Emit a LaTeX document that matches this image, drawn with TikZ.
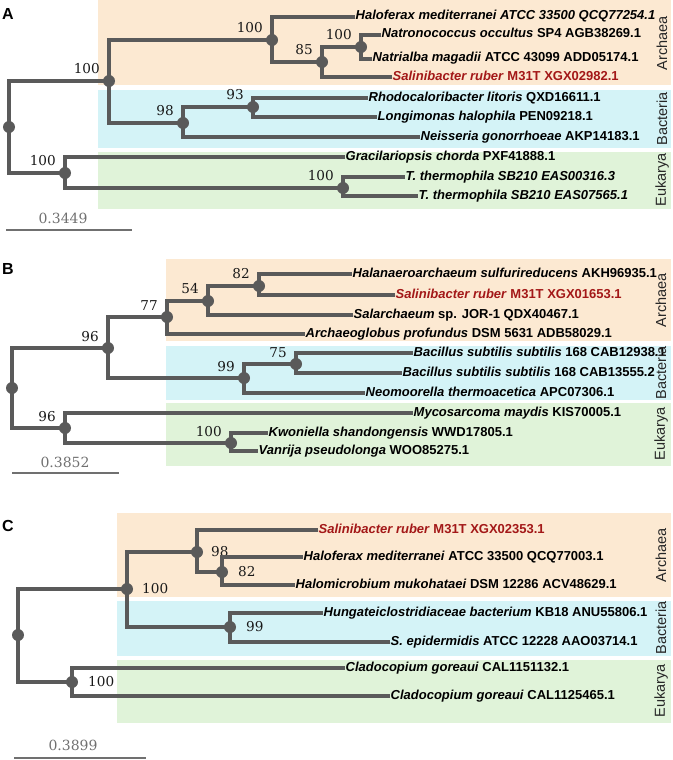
\documentclass[tikz,border=0pt]{standalone}
\usepackage{fontspec}
\usepackage{xcolor}
\usepackage{tikz}
\usetikzlibrary{positioning}
\newfontfamily\leaffont{Liberation Sans}
\newfontfamily\suppfont{DejaVu Serif}

\tikzset{
    br/.style={draw=treegray, line width=3.3bp},
    bp/.style={circle, fill=treegray, inner sep=0pt, minimum size=12bp},
    leaf/.style={anchor=west, inner sep=0.5bp, text height=9bp, text depth=3bp,
        font=\leaffont\bfseries\fontsize{13bp}{15bp}\selectfont},
    redleaf/.style={leaf, text=salred},
    supp/.style={inner sep=0pt, text=black!90,
        font=\suppfont\fontsize{13.6bp}{16bp}\selectfont},
    domlabel/.style={rotate=90, inner sep=0pt, text=black!85,
        font=\leaffont\fontsize{14.5bp}{17bp}\selectfont},
    panel/.style={inner sep=0pt, font=\leaffont\bfseries\fontsize{16bp}{19bp}\selectfont},
    scalebar/.style={draw=scalegray, line width=1.3bp},
    scaletext/.style={inner sep=0pt, text=scalegray,
        font=\suppfont\fontsize{14bp}{17bp}\selectfont}
}

\begin{document}
\begin{tikzpicture}[x=1bp,y=-1bp]
    \definecolor{treegray}{HTML}{5A5A5A}
    \definecolor{scalegray}{HTML}{707070}
    \definecolor{salred}{HTML}{A31818}
    \definecolor{archaea}{HTML}{FCE9D2}
    \definecolor{bacteria}{HTML}{D4F3F7}
    \definecolor{eukarya}{HTML}{E0F3D9}
    \useasboundingbox (0,0) rectangle (673,760);

    % bands
    \fill[archaea] (98,0) rectangle (671,85);
    \fill[bacteria] (98,90) rectangle (671,148);
    \fill[eukarya] (98,152) rectangle (671,209);
    \fill[archaea] (166,259) rectangle (671,341);
    \fill[bacteria] (166,346) rectangle (671,400);
    \fill[eukarya] (166,403) rectangle (671,466);
    \fill[archaea] (117,513) rectangle (671,597);
    \fill[bacteria] (117,601) rectangle (671,656);
    \fill[eukarya] (117,660) rectangle (671,723);

    % panel A
    \node[panel] (pa) at (8,14) {A};
    \node[bp] (a0) at (9,127) {};
    \node[bp] (a1) at (109,81) {};
    \node[bp] (a2) at (272,40) {};
    \node[bp] (a3) at (322,62) {};
    \node[bp] (a4) at (361,47) {};
    \node[bp] (a5) at (183,123) {};
    \node[bp] (a6) at (253,107) {};
    \node[bp] (a7) at (65,173) {};
    \node[bp] (a8) at (343,188) {};
    \node[supp, above left=7bp and 9bp of a1.center] (sa1) {100};
    \node[supp, above left=7bp and 9bp of a2.center] (sa2) {100};
    \node[supp, above left=7bp and 9bp of a3.center] (sa3) {85};
    \node[supp, above left=7bp and 9bp of a4.center] (sa4) {100};
    \node[supp, above left=7bp and 9bp of a5.center] (sa5) {98};
    \node[supp, above left=7bp and 9bp of a6.center] (sa6) {93};
    \node[supp, above left=7bp and 9bp of a7.center] (sa7) {100};
    \node[supp, above left=7bp and 9bp of a8.center] (sa8) {100};
    \node[leaf] (a-hme) at (355,17) {\itshape Haloferax mediterranei ATCC 33500 QCQ77254.1};
    \node[leaf] (a-noc) at (381,35) {\textit{Natronococcus occultus} SP4 AGB38269.1};
    \node[leaf] (a-nma) at (372,59) {\textit{Natrialba magadii} ATCC 43099 ADD05174.1};
    \node[redleaf] (a-sru) at (392,77) {\textit{Salinibacter ruber} M31T XGX02982.1};
    \node[leaf] (a-rli) at (368,98) {\textit{Rhodocaloribacter litoris} QXD16611.1};
    \node[leaf] (a-lha) at (377,117) {\textit{Longimonas halophila} PEN09218.1};
    \node[leaf] (a-ngo) at (420,137) {\textit{Neisseria gonorrhoeae} AKP14183.1};
    \node[leaf] (a-gch) at (345,157) {\textit{Gracilariopsis chorda} PXF41888.1};
    \node[leaf] (a-tt1) at (405,177) {\itshape T. thermophila SB210 EAS00316.3};
    \node[leaf] (a-tt2) at (418,196) {\itshape T. thermophila SB210 EAS07565.1};
    \draw[br] (a0.center) |- (a1.center);
    \draw[br] (a0.center) |- (a7.center);
    \draw[br] (a1.center) |- (a2.center);
    \draw[br] (a1.center) |- (a5.center);
    \draw[br] (a2.center) |- (a-hme.west);
    \draw[br] (a2.center) |- (a3.center);
    \draw[br] (a3.center) |- (a4.center);
    \draw[br] (a3.center) |- (a-sru.west);
    \draw[br] (a4.center) |- (a-noc.west);
    \draw[br] (a4.center) |- (a-nma.west);
    \draw[br] (a5.center) |- (a6.center);
    \draw[br] (a5.center) |- (a-ngo.west);
    \draw[br] (a6.center) |- (a-rli.west);
    \draw[br] (a6.center) |- (a-lha.west);
    \draw[br] (a7.center) |- (a-gch.west);
    \draw[br] (a7.center) |- (a8.center);
    \draw[br] (a8.center) |- (a-tt1.west);
    \draw[br] (a8.center) |- (a-tt2.west);
    \node[domlabel] (da-arc) at (662,43) {Archaea};
    \node[domlabel] (da-bac) at (662,119) {Bacteria};
    \node[domlabel] (da-euk) at (662,180) {Eukarya};
    \coordinate (sa-l) at (6,230);
    \coordinate (sa-r) at (132,230);
    \draw[scalebar] (sa-l) -- (sa-r);
    \node[scaletext] (sa-t) at (63,218) {0.3449};

    % panel B
    \node[panel] (pb) at (8,269) {B};
    \node[bp] (b0) at (12,388) {};
    \node[bp] (b1) at (108,348) {};
    \node[bp] (b2) at (167,317) {};
    \node[bp] (b3) at (208,301) {};
    \node[bp] (b4) at (259,286) {};
    \node[bp] (b5) at (244,378) {};
    \node[bp] (b6) at (296,364) {};
    \node[bp] (b7) at (65,428) {};
    \node[bp] (b8) at (231,443) {};
    \node[supp, above left=6bp and 9bp of b1.center] (sb1) {96};
    \node[supp, above left=6bp and 9bp of b2.center] (sb2) {77};
    \node[supp, above left=7bp and 9bp of b3.center] (sb3) {54};
    \node[supp, above left=7bp and 9bp of b4.center] (sb4) {82};
    \node[supp, above left=6bp and 9bp of b5.center] (sb5) {99};
    \node[supp, above left=6bp and 9bp of b6.center] (sb6) {75};
    \node[supp, above left=6bp and 9bp of b7.center] (sb7) {96};
    \node[supp, above left=6bp and 9bp of b8.center] (sb8) {100};
    \node[leaf] (b-hsu) at (352,274) {\textit{Halanaeroarchaeum sulfurireducens} AKH96935.1};
    \node[redleaf] (b-sru) at (395,295) {\textit{Salinibacter ruber} M31T XGX01653.1};
    \node[leaf] (b-sal) at (353,315) {\textit{Salarchaeum} sp. JOR-1 QDX40467.1};
    \node[leaf] (b-apr) at (305,334) {\textit{Archaeoglobus profundus} DSM 5631 ADB58029.1};
    \node[leaf] (b-bs1) at (413,353) {\textit{Bacillus subtilis subtilis} 168 CAB12938.1};
    \node[leaf] (b-bs2) at (402,373) {\textit{Bacillus subtilis subtilis} 168 CAB13555.2};
    \node[leaf] (b-nth) at (365,393) {\textit{Neomoorella thermoacetica} APC07306.1};
    \node[leaf] (b-mma) at (413,413) {\textit{Mycosarcoma maydis} KIS70005.1};
    \node[leaf] (b-ksh) at (268,433) {\textit{Kwoniella shandongensis} WWD17805.1};
    \node[leaf] (b-vps) at (258,451) {\textit{Vanrija pseudolonga} WOO85275.1};
    \draw[br] (b0.center) |- (b1.center);
    \draw[br] (b0.center) |- (b7.center);
    \draw[br] (b1.center) |- (b2.center);
    \draw[br] (b1.center) |- (b5.center);
    \draw[br] (b2.center) |- (b3.center);
    \draw[br] (b2.center) |- (b-apr.west);
    \draw[br] (b3.center) |- (b4.center);
    \draw[br] (b3.center) |- (b-sal.west);
    \draw[br] (b4.center) |- (b-hsu.west);
    \draw[br] (b4.center) |- (b-sru.west);
    \draw[br] (b5.center) |- (b6.center);
    \draw[br] (b5.center) |- (b-nth.west);
    \draw[br] (b6.center) |- (b-bs1.west);
    \draw[br] (b6.center) |- (b-bs2.west);
    \draw[br] (b7.center) |- (b-mma.west);
    \draw[br] (b7.center) |- (b8.center);
    \draw[br] (b8.center) |- (b-ksh.west);
    \draw[br] (b8.center) |- (b-vps.west);
    \node[domlabel] (db-arc) at (661,300) {Archaea};
    \node[domlabel] (db-bac) at (661,373) {Bacteria};
    \node[domlabel] (db-euk) at (661,434) {Eukarya};
    \coordinate (sb-l) at (12,473);
    \coordinate (sb-r) at (119,473);
    \draw[scalebar] (sb-l) -- (sb-r);
    \node[scaletext] (sb-t) at (65,462) {0.3852};

    % panel C
    \node[panel] (pc) at (8,526) {C};
    \node[bp] (c0) at (18,635) {};
    \node[bp] (c1) at (127,589) {};
    \node[bp] (c2) at (197,552) {};
    \node[bp] (c3) at (222,572) {};
    \node[bp] (c4) at (230,627) {};
    \node[bp] (c5) at (72,682) {};
    \node[supp, right=15bp of c1.center] (sc1) {100};
    \node[supp, right=14bp of c2.center] (sc2) {98};
    \node[supp, right=16bp of c3.center] (sc3) {82};
    \node[supp, right=16bp of c4.center] (sc4) {99};
    \node[supp, right=16bp of c5.center] (sc5) {100};
    \node[redleaf] (c-sru) at (318,530) {\textit{Salinibacter ruber} M31T XGX02353.1};
    \node[leaf] (c-hme) at (303,557) {\textit{Haloferax mediterranei} ATCC 33500 QCQ77003.1};
    \node[leaf] (c-hmu) at (295,585) {\textit{Halomicrobium mukohataei} DSM 12286 ACV48629.1};
    \node[leaf] (c-hba) at (323,613) {\textit{Hungateiclostridiaceae bacterium} KB18 ANU55806.1};
    \node[leaf] (c-sep) at (390,642) {\textit{S. epidermidis} ATCC 12228 AAO03714.1};
    \node[leaf] (c-cg1) at (345,668) {\textit{Cladocopium goreaui} CAL1151132.1};
    \node[leaf] (c-cg2) at (390,696) {\textit{Cladocopium goreaui} CAL1125465.1};
    \draw[br] (c0.center) |- (c1.center);
    \draw[br] (c0.center) |- (c5.center);
    \draw[br] (c1.center) |- (c2.center);
    \draw[br] (c1.center) |- (c4.center);
    \draw[br] (c2.center) |- (c-sru.west);
    \draw[br] (c2.center) |- (c3.center);
    \draw[br] (c3.center) |- (c-hme.west);
    \draw[br] (c3.center) |- (c-hmu.west);
    \draw[br] (c4.center) |- (c-hba.west);
    \draw[br] (c4.center) |- (c-sep.west);
    \draw[br] (c5.center) |- (c-cg1.west);
    \draw[br] (c5.center) |- (c-cg2.west);
    \node[domlabel] (dc-arc) at (661,555) {Archaea};
    \node[domlabel] (dc-bac) at (661,628) {Bacteria};
    \node[domlabel] (dc-euk) at (661,691) {Eukarya};
    \coordinate (sc-l) at (14,758);
    \coordinate (sc-r) at (146,758);
    \draw[scalebar] (sc-l) -- (sc-r);
    \node[scaletext] (sc-t) at (73,745) {0.3899};
\end{tikzpicture}
\end{document}
